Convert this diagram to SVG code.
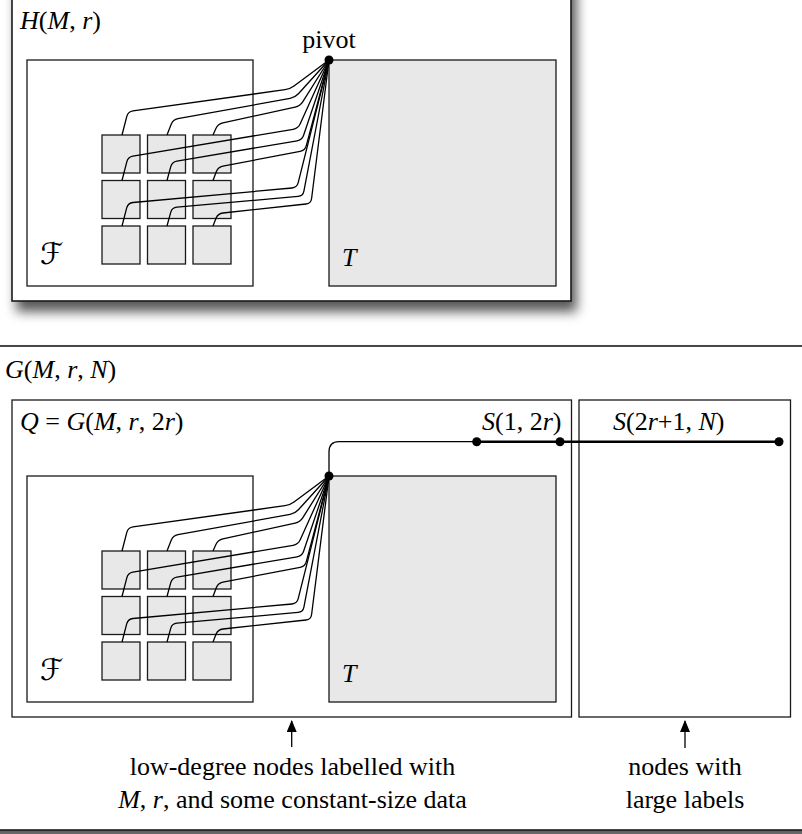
<svg xmlns="http://www.w3.org/2000/svg" xmlns:xlink="http://www.w3.org/1999/xlink" width="802" height="834" viewBox="0 0 802 834">
<defs>
<style>
.frame{fill:#fff;stroke:#1a1a1a;stroke-width:1.6}
.box{fill:#fff;stroke:#1a1a1a;stroke-width:1.3}
.gray{fill:#e8e8e8;stroke:#1a1a1a;stroke-width:1.3}
.wire{fill:none;stroke:#000;stroke-width:1.3}
.thick{fill:none;stroke:#000;stroke-width:2.4}
.dot{fill:#000}
.t{font-family:'Liberation Serif','Times New Roman',Times,serif;font-size:26px;fill:#000}
.i{font-style:italic}
.cal{font-family:'DejaVu Serif','DejaVu Sans',serif;font-size:30px;fill:#000}
</style>
<filter id="shadow" x="-10%" y="-10%" width="125%" height="130%">
<feDropShadow dx="5" dy="10" stdDeviation="6" flood-color="#000" flood-opacity="0.65"/>
</filter>
<marker id="arr" markerWidth="12" markerHeight="10" refX="11" refY="5" orient="auto" markerUnits="userSpaceOnUse" viewBox="0 0 12 10">
<path d="M0,0 L12,5 L0,10 Z" fill="#000"/>
</marker>
<g id="grid">
<rect class="gray" x="102" y="135" width="38" height="38"/>
<rect class="gray" x="147.5" y="135" width="38" height="38"/>
<rect class="gray" x="193" y="135" width="38" height="38"/>
<rect class="gray" x="102" y="180.5" width="38" height="38"/>
<rect class="gray" x="147.5" y="180.5" width="38" height="38"/>
<rect class="gray" x="193" y="180.5" width="38" height="38"/>
<rect class="gray" x="102" y="226" width="38" height="38"/>
<rect class="gray" x="147.5" y="226" width="38" height="38"/>
<rect class="gray" x="193" y="226" width="38" height="38"/>
</g>
<g id="fan">
<path class="wire" d="M122,135 L126.8,116.4 Q128,111.5 133,110.8 L285,89.7 Q290,89 294,86 L329,60"/>
<path class="wire" d="M167,135 L171.2,124.2 Q173,119.5 177.9,118.6 L290.1,98.4 Q295,97.5 298.4,93.8 L329,60"/>
<path class="wire" d="M213,135 L215.9,128.5 Q218,124 222.9,122.9 L295.1,107.1 Q300,106 302.7,101.8 L329,60"/>
<path class="wire" d="M122,180.5 L126.8,161.8 Q128,157 132.9,156.2 L293.1,129.3 Q298,128.5 300.1,124 L329,60"/>
<path class="wire" d="M167,180.5 L170.7,166.8 Q172,162 176.9,161.2 L297.1,140.8 Q302,140 303.6,135.3 L329,60"/>
<path class="wire" d="M213,180.5 L216.3,171.7 Q218,167 222.9,166.1 L300.1,151.4 Q305,150.5 306.3,145.7 L329,60"/>
<path class="wire" d="M122,226 L126.7,207.8 Q128,203 133,202.5 L292,188 Q297,187.5 298.2,182.7 L329,60"/>
<path class="wire" d="M167,226 L170.7,212.3 Q172,207.5 177,207.1 L298,196.4 Q303,196 303.9,191.1 L329,60"/>
<path class="wire" d="M213,226 L216.1,218.1 Q218,213.5 223,213 L306,204 Q311,203.5 311.6,198.5 L329,60"/>
</g>
</defs>

<g font-family="Liberation Serif, Times New Roman, serif">
<g id="H-frame">
<rect class="frame" x="12" y="-20" width="559" height="321" filter="url(#shadow)"/>
<text class="t" x="20" y="29"><tspan class="i">H</tspan>(<tspan class="i">M</tspan>, <tspan class="i">r</tspan>)</text>
</g>
<g id="H-F">
<rect class="box" x="27" y="60" width="226" height="226"/>
<use xlink:href="#grid"/>
<text class="cal" x="40" y="264">ℱ</text>
</g>
<g id="H-T">
<rect class="gray" x="329" y="60" width="227" height="226"/>
<text class="t i" x="342" y="266">T</text>
</g>

<g id="G-frame">
<rect class="frame" x="-20" y="346" width="842" height="484" filter="url(#shadow)"/>
<text class="t" x="5" y="378"><tspan class="i">G</tspan>(<tspan class="i">M</tspan>, <tspan class="i">r</tspan>, <tspan class="i">N</tspan>)</text>
</g>
<g id="Q">
<rect class="box" x="12" y="400" width="559.5" height="317"/>
<text class="t" x="20" y="429.5"><tspan class="i">Q</tspan> = <tspan class="i">G</tspan>(<tspan class="i">M</tspan>, <tspan class="i">r</tspan>, 2<tspan class="i">r</tspan>)</text>
</g>
<g id="Q-F">
<rect class="box" x="27" y="476" width="226" height="226"/>
<use xlink:href="#grid" transform="translate(0,416)"/>
<text class="cal" x="40" y="680">ℱ</text>
</g>
<g id="Q-T">
<rect class="gray" x="329" y="476" width="227" height="226"/>
<text class="t i" x="342" y="682">T</text>
</g>
<g id="large">
<rect class="box" x="579" y="400" width="211.5" height="317"/>
<text class="t" x="613" y="430"><tspan class="i">S</tspan>(2<tspan class="i">r</tspan>+1, <tspan class="i">N</tspan>)</text>
</g>
<g id="S12">
<text class="t" x="482" y="430"><tspan class="i">S</tspan>(1, 2<tspan class="i">r</tspan>)</text>
</g>

<g id="connectors">
<use xlink:href="#fan"/>
<circle class="dot" cx="329" cy="60" r="4.5"/>
<use xlink:href="#fan" transform="translate(0,416)"/>
<path class="wire" d="M329,476 L329,452 Q329,441.7 339,441.7 L476.7,441.7"/>
<path class="thick" d="M476.7,441.7 L779,441.7"/>
<circle class="dot" cx="329" cy="476" r="4.5"/>
<circle class="dot" cx="476.7" cy="441.7" r="4.5"/>
<circle class="dot" cx="560" cy="441.7" r="4.5"/>
<circle class="dot" cx="779" cy="441.7" r="4.5"/>
<line class="wire" x1="291.7" y1="747" x2="291.7" y2="721" marker-end="url(#arr)"/>
<line class="wire" x1="685" y1="748" x2="685" y2="721" marker-end="url(#arr)"/>
</g>

<g id="captions">
<text class="t" x="292.5" y="775" text-anchor="middle">low-degree nodes labelled with</text>
<text class="t" x="292.5" y="808" text-anchor="middle"><tspan class="i">M</tspan>, <tspan class="i">r</tspan>, and some constant-size data</text>
<text class="t" x="685" y="775" text-anchor="middle">nodes with</text>
<text class="t" x="685" y="808" text-anchor="middle">large labels</text>
<text class="t" x="329" y="48" text-anchor="middle">pivot</text>
</g>
</g>
</svg>
